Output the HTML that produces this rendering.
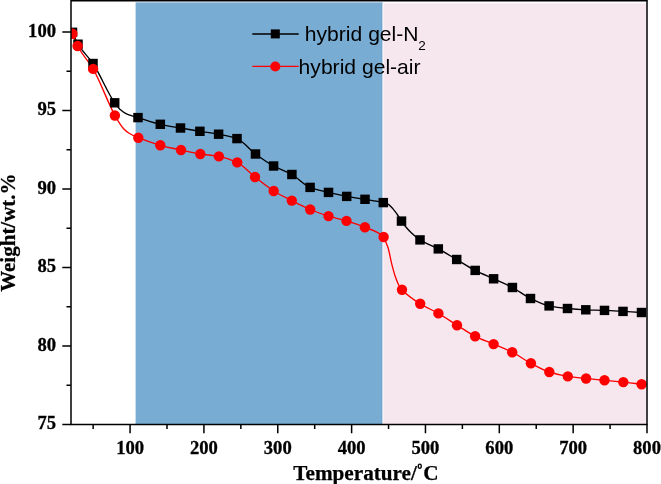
<!DOCTYPE html><html><head><meta charset="utf-8"><style>html,body{margin:0;padding:0;background:#fff;}svg{display:block;will-change:transform;}</style></head><body>
<svg width="661" height="484" viewBox="0 0 661 484">
<defs><clipPath id="pa"><rect x="71.0" y="1" width="576.0" height="423.5"/></clipPath></defs>
<rect x="135.6" y="2.4" width="247.0" height="422.1" fill="#79acd3"/>
<rect x="382.6" y="3.4" width="263.3" height="421.1" fill="#f6e7ef"/>
<rect x="381" y="2.8" width="1" height="421.7" fill="#6fa8cf"/>
<rect x="383" y="2.8" width="1" height="421.7" fill="#fff" fill-opacity="0.45"/>
<g clip-path="url(#pa)">
<path d="M72.50,32.30 C74.33,36.27 76.17,41.12 78.00,44.20 C83.00,52.60 88.00,56.05 93.00,63.50 C100.23,74.27 107.47,92.76 114.70,102.80 C116.73,105.62 118.77,108.36 120.80,110.10 C122.53,111.58 124.27,112.76 126.00,113.60 C128.07,114.60 130.13,115.22 132.20,115.90 C134.13,116.53 136.07,117.03 138.00,117.60 C145.43,119.80 152.87,122.61 160.30,124.30 C167.03,125.83 173.77,126.81 180.50,128.00 C186.97,129.14 193.43,130.25 199.90,131.30 C206.13,132.31 212.37,133.03 218.60,134.20 C224.73,135.35 230.87,136.32 237.00,138.60 C243.17,140.89 249.33,149.45 255.50,154.00 C261.53,158.45 267.57,162.70 273.60,166.00 C279.70,169.33 285.80,171.08 291.90,174.50 C297.97,177.91 304.03,185.01 310.10,187.40 C316.23,189.81 322.37,190.91 328.50,192.40 C334.57,193.87 340.63,195.28 346.70,196.40 C352.80,197.52 358.90,198.27 365.00,199.30 C371.10,200.33 377.20,201.11 383.30,202.60 C384.87,202.98 386.43,203.36 388.00,204.10 C389.60,204.86 391.20,206.85 392.80,208.60 C394.12,210.04 395.43,211.89 396.75,213.75 C398.33,215.98 399.92,218.82 401.50,221.10 C402.77,222.93 404.03,224.70 405.30,226.25 C407.20,228.57 409.10,230.70 411.00,232.50 C414.00,235.35 417.00,238.00 420.00,239.90 C426.10,243.76 432.20,245.66 438.30,248.90 C444.43,252.15 450.57,255.93 456.70,259.50 C462.87,263.09 469.03,267.23 475.20,270.40 C481.33,273.55 487.47,275.98 493.60,278.80 C499.87,281.68 506.13,284.20 512.40,287.50 C518.43,290.67 524.47,295.60 530.50,298.50 C536.70,301.48 542.90,304.61 549.10,305.90 C555.23,307.18 561.37,307.92 567.50,308.50 C573.60,309.08 579.70,309.53 585.80,309.80 C592.03,310.08 598.27,310.15 604.50,310.40 C610.67,310.65 616.83,311.05 623.00,311.40 C629.17,311.75 635.33,312.13 641.50,312.50" fill="none" stroke="#000" stroke-width="1.35"/>
<path d="M72.40,33.70 C74.13,37.80 75.87,42.72 77.60,46.00 C82.77,55.77 87.93,59.96 93.10,68.90 C100.37,81.47 107.63,102.18 114.90,115.50 C116.27,118.01 117.63,120.32 119.00,122.40 C120.47,124.63 121.93,126.94 123.40,128.50 C125.17,130.37 126.93,131.87 128.70,133.00 C131.90,135.04 135.10,136.37 138.30,137.70 C145.63,140.74 152.97,143.29 160.30,145.30 C167.20,147.19 174.10,148.51 181.00,150.00 C187.43,151.39 193.87,152.98 200.30,154.00 C206.50,154.98 212.70,155.25 218.90,156.40 C225.00,157.53 231.10,159.54 237.20,162.40 C243.13,165.19 249.07,172.35 255.00,177.00 C261.23,181.88 267.47,187.13 273.70,191.00 C279.73,194.74 285.77,197.55 291.80,200.60 C297.93,203.70 304.07,206.97 310.20,209.50 C316.30,212.02 322.40,214.23 328.50,216.10 C334.50,217.94 340.50,219.09 346.50,220.90 C352.63,222.75 358.77,224.75 364.90,227.30 C371.13,229.89 377.37,230.68 383.60,237.00 C384.27,237.68 384.93,239.89 385.60,241.50 C386.47,243.59 387.33,245.49 388.20,248.30 C389.37,252.09 390.53,259.21 391.70,263.80 C392.87,268.39 394.03,272.81 395.20,276.20 C396.47,279.88 397.73,283.27 399.00,285.50 C400.00,287.26 401.00,288.63 402.00,289.70 C408.07,296.20 414.13,299.99 420.20,303.80 C426.27,307.61 432.33,309.91 438.40,313.40 C444.60,316.97 450.80,321.33 457.00,325.20 C463.03,328.96 469.07,333.28 475.10,336.30 C481.27,339.38 487.43,341.46 493.60,344.10 C499.80,346.76 506.00,349.09 512.20,352.20 C518.43,355.33 524.67,360.02 530.90,363.30 C537.03,366.53 543.17,370.06 549.30,372.00 C555.47,373.95 561.63,375.45 567.80,376.40 C573.90,377.34 580.00,377.86 586.10,378.50 C592.23,379.15 598.37,379.71 604.50,380.30 C610.77,380.91 617.03,381.45 623.30,382.10 C629.40,382.74 635.50,383.50 641.60,384.20" fill="none" stroke="#ff0000" stroke-width="1.35"/>
<rect x="67.75" y="27.60" width="9.5" height="9.4" fill="#000"/>
<rect x="73.25" y="39.50" width="9.5" height="9.4" fill="#000"/>
<rect x="88.25" y="58.80" width="9.5" height="9.4" fill="#000"/>
<rect x="109.95" y="98.10" width="9.5" height="9.4" fill="#000"/>
<rect x="133.25" y="112.90" width="9.5" height="9.4" fill="#000"/>
<rect x="155.55" y="119.60" width="9.5" height="9.4" fill="#000"/>
<rect x="175.75" y="123.30" width="9.5" height="9.4" fill="#000"/>
<rect x="195.15" y="126.60" width="9.5" height="9.4" fill="#000"/>
<rect x="213.85" y="129.50" width="9.5" height="9.4" fill="#000"/>
<rect x="232.25" y="133.90" width="9.5" height="9.4" fill="#000"/>
<rect x="250.75" y="149.30" width="9.5" height="9.4" fill="#000"/>
<rect x="268.85" y="161.30" width="9.5" height="9.4" fill="#000"/>
<rect x="287.15" y="169.80" width="9.5" height="9.4" fill="#000"/>
<rect x="305.35" y="182.70" width="9.5" height="9.4" fill="#000"/>
<rect x="323.75" y="187.70" width="9.5" height="9.4" fill="#000"/>
<rect x="341.95" y="191.70" width="9.5" height="9.4" fill="#000"/>
<rect x="360.25" y="194.60" width="9.5" height="9.4" fill="#000"/>
<rect x="378.55" y="197.90" width="9.5" height="9.4" fill="#000"/>
<rect x="396.75" y="216.40" width="9.5" height="9.4" fill="#000"/>
<rect x="415.25" y="235.20" width="9.5" height="9.4" fill="#000"/>
<rect x="433.55" y="244.20" width="9.5" height="9.4" fill="#000"/>
<rect x="451.95" y="254.80" width="9.5" height="9.4" fill="#000"/>
<rect x="470.45" y="265.70" width="9.5" height="9.4" fill="#000"/>
<rect x="488.85" y="274.10" width="9.5" height="9.4" fill="#000"/>
<rect x="507.65" y="282.80" width="9.5" height="9.4" fill="#000"/>
<rect x="525.75" y="293.80" width="9.5" height="9.4" fill="#000"/>
<rect x="544.35" y="301.20" width="9.5" height="9.4" fill="#000"/>
<rect x="562.75" y="303.80" width="9.5" height="9.4" fill="#000"/>
<rect x="581.05" y="305.10" width="9.5" height="9.4" fill="#000"/>
<rect x="599.75" y="305.70" width="9.5" height="9.4" fill="#000"/>
<rect x="618.25" y="306.70" width="9.5" height="9.4" fill="#000"/>
<rect x="636.75" y="307.80" width="9.5" height="9.4" fill="#000"/>
<circle cx="72.40" cy="33.70" r="5.2" fill="#ff0000"/>
<circle cx="77.60" cy="46.00" r="5.2" fill="#ff0000"/>
<circle cx="93.10" cy="68.90" r="5.2" fill="#ff0000"/>
<circle cx="114.90" cy="115.50" r="5.2" fill="#ff0000"/>
<circle cx="138.30" cy="137.70" r="5.2" fill="#ff0000"/>
<circle cx="160.30" cy="145.30" r="5.2" fill="#ff0000"/>
<circle cx="181.00" cy="150.00" r="5.2" fill="#ff0000"/>
<circle cx="200.30" cy="154.00" r="5.2" fill="#ff0000"/>
<circle cx="218.90" cy="156.40" r="5.2" fill="#ff0000"/>
<circle cx="237.20" cy="162.40" r="5.2" fill="#ff0000"/>
<circle cx="255.00" cy="177.00" r="5.2" fill="#ff0000"/>
<circle cx="273.70" cy="191.00" r="5.2" fill="#ff0000"/>
<circle cx="291.80" cy="200.60" r="5.2" fill="#ff0000"/>
<circle cx="310.20" cy="209.50" r="5.2" fill="#ff0000"/>
<circle cx="328.50" cy="216.10" r="5.2" fill="#ff0000"/>
<circle cx="346.50" cy="220.90" r="5.2" fill="#ff0000"/>
<circle cx="364.90" cy="227.30" r="5.2" fill="#ff0000"/>
<circle cx="383.60" cy="237.00" r="5.2" fill="#ff0000"/>
<circle cx="402.00" cy="289.70" r="5.2" fill="#ff0000"/>
<circle cx="420.20" cy="303.80" r="5.2" fill="#ff0000"/>
<circle cx="438.40" cy="313.40" r="5.2" fill="#ff0000"/>
<circle cx="457.00" cy="325.20" r="5.2" fill="#ff0000"/>
<circle cx="475.10" cy="336.30" r="5.2" fill="#ff0000"/>
<circle cx="493.60" cy="344.10" r="5.2" fill="#ff0000"/>
<circle cx="512.20" cy="352.20" r="5.2" fill="#ff0000"/>
<circle cx="530.90" cy="363.30" r="5.2" fill="#ff0000"/>
<circle cx="549.30" cy="372.00" r="5.2" fill="#ff0000"/>
<circle cx="567.80" cy="376.40" r="5.2" fill="#ff0000"/>
<circle cx="586.10" cy="378.50" r="5.2" fill="#ff0000"/>
<circle cx="604.50" cy="380.30" r="5.2" fill="#ff0000"/>
<circle cx="623.30" cy="382.10" r="5.2" fill="#ff0000"/>
<circle cx="641.60" cy="384.20" r="5.2" fill="#ff0000"/>
</g>
<path d="M71.0,0.7 H647.8 M71.00,0 V425.3 M647.00,0 V425.3 M70.2,424.5 H647.8" stroke="#000" stroke-width="1.5" fill="none"/>
<path d="M62.3,424.50 H71.0 M66.5,385.25 H71.0 M62.3,346.00 H71.0 M66.5,306.75 H71.0 M62.3,267.50 H71.0 M66.5,228.25 H71.0 M62.3,189.00 H71.0 M66.5,149.75 H71.0 M62.3,110.50 H71.0 M66.5,71.25 H71.0 M62.3,32.00 H71.0 M93.15,424.5 V429.0 M130.08,424.5 V433.2 M167.00,424.5 V429.0 M203.92,424.5 V433.2 M240.85,424.5 V429.0 M277.77,424.5 V433.2 M314.69,424.5 V429.0 M351.62,424.5 V433.2 M388.54,424.5 V429.0 M425.46,424.5 V433.2 M462.38,424.5 V429.0 M499.31,424.5 V433.2 M536.23,424.5 V429.0 M573.15,424.5 V433.2 M610.08,424.5 V429.0 M647.00,424.5 V433.2" stroke="#000" stroke-width="1.5" fill="none"/>
<g font-family="Liberation Serif" font-weight="bold" font-size="18.6" fill="#000" stroke="#000" stroke-width="0.3"><text x="56" y="429.4" text-anchor="end">75</text><text x="56" y="350.9" text-anchor="end">80</text><text x="56" y="272.4" text-anchor="end">85</text><text x="56" y="193.9" text-anchor="end">90</text><text x="56" y="115.4" text-anchor="end">95</text><text x="56" y="36.9" text-anchor="end">100</text><text x="130.08" y="453.9" text-anchor="middle">100</text><text x="203.92" y="453.9" text-anchor="middle">200</text><text x="277.77" y="453.9" text-anchor="middle">300</text><text x="351.62" y="453.9" text-anchor="middle">400</text><text x="425.46" y="453.9" text-anchor="middle">500</text><text x="499.31" y="453.9" text-anchor="middle">600</text><text x="573.15" y="453.9" text-anchor="middle">700</text><text x="647.00" y="453.9" text-anchor="middle">800</text></g>
<g transform="translate(294.5,479.7) scale(1.0,1)"><text x="-1.2" y="0" font-family="Liberation Serif" font-weight="bold" font-size="21.2" stroke="#000" stroke-width="0.25">Temperature/</text></g>
<ellipse cx="419.75" cy="466.2" rx="1.5" ry="2.1" fill="none" stroke="#000" stroke-width="1.35"/>
<text x="423.3" y="479.7" font-family="Liberation Serif" font-weight="bold" font-size="21.2" stroke="#000" stroke-width="0.25">C</text>
<text transform="translate(15.4,291.8) rotate(-90)" font-family="Liberation Serif" font-weight="bold" font-size="21" stroke="#000" stroke-width="0.25">Weight/wt.%</text>
<path d="M252.3,34 H298.7" stroke="#000" stroke-width="1.4"/><rect x="270.8" y="29.4" width="9" height="9" fill="#000"/>
<path d="M252.3,66.4 H298.7" stroke="#f00" stroke-width="1.4"/><circle cx="275.3" cy="66.5" r="5.1" fill="#f00"/>
<g transform="translate(304.8,41.4) scale(1.077,1)"><text x="0" y="0" font-family="Liberation Sans" font-size="19.6">hybrid gel-N</text></g>
<text x="418.3" y="49.5" font-family="Liberation Sans" font-size="13.5">2</text>
<g transform="translate(298.6,73.7) scale(1.077,1)"><text x="0" y="0" font-family="Liberation Sans" font-size="19.6">hybrid gel-air</text></g>
</svg></body></html>
